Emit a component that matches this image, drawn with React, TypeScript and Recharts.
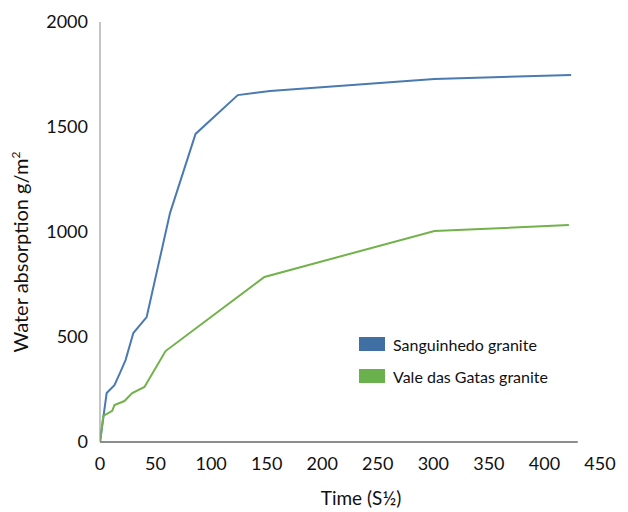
import { LineChart, Line, XAxis, YAxis, ReferenceLine } from "recharts";

// Sanguinhedo granite
const sanguinhedoTime = [0, 6, 13, 18, 23, 30, 42, 63, 86, 124, 153, 301, 424];
const sanguinhedoAbs = [0, 233, 271, 329, 390, 519, 595, 1090, 1467, 1652, 1671, 1729, 1748];

// Vale das Gatas granite
const valeTime = [0, 3, 11, 13, 22, 29, 40, 59, 148, 301, 422];
const valeAbs = [0, 124, 148, 176, 195, 233, 262, 433, 786, 1005, 1033];

const xTicks = [0, 50, 100, 150, 200, 250, 300, 350, 400, 450];
const yTicks = [0, 500, 1000, 1500, 2000];

const sanguinhedo = sanguinhedoTime.map((t, i) => ({ t, v: sanguinhedoAbs[i] }));
const vale = valeTime.map((t, i) => ({ t, v: valeAbs[i] }));

const FONT = "Lato, 'Open Sans', sans-serif";
const BLUE = "#4a7ab0";
const GREEN = "#72b24a";

function LegendBox() {
  const items = [
    { name: "Sanguinhedo granite", color: "#3f6fa3" },
    { name: "Vale das Gatas granite", color: "#6ab04c" },
  ];
  return (
    <div style={{ position: "absolute", left: 351, top: 320, fontFamily: FONT, fontSize: 16, color: "#111" }}>
      {items.map((it) => (
        <div key={it.name} style={{ display: "flex", alignItems: "center", height: 32 }}>
          <span style={{ width: 26, height: 14, background: it.color, marginRight: 8, display: "inline-block" }} />
          {it.name}
        </div>
      ))}
    </div>
  );
}

export default function App() {
  return (
    <div style={{ position: "relative", width: 620, height: 504, fontFamily: FONT }}>
      <LineChart width={620} height={504} margin={{ top: 14, right: 28, bottom: 40, left: 32 }}>
        <XAxis
          dataKey="t"
          type="number"
          domain={[0, 450]}
          ticks={xTicks}
          height={30}
          axisLine={false}
          tickLine={false}
          tickSize={0}
          tickMargin={15}
          allowDataOverflow
          tick={{ fill: "#111", fontSize: 18, fontFamily: FONT }}
        />
        <YAxis
          type="number"
          domain={[0, 2000]}
          ticks={yTicks}
          width={60}
          axisLine={{ stroke: "#8a8a8a", strokeWidth: 1 }}
          tickLine={false}
          tickSize={0}
          tickMargin={12}
          tick={{ fill: "#111", fontSize: 18, fontFamily: FONT }}
        />
        <ReferenceLine
          segment={[{ x: 0, y: 0 }, { x: 430, y: 0 }]}
          stroke="#8c8c8c"
          strokeWidth={2}
          ifOverflow="visible"
        />
        <Line
          data={sanguinhedo}
          dataKey="v"
          name="Sanguinhedo granite"
          stroke={BLUE}
          strokeWidth={2}
          dot={false}
          type="linear"
          isAnimationActive={false}
        />
        <Line
          data={vale}
          dataKey="v"
          name="Vale das Gatas granite"
          stroke={GREEN}
          strokeWidth={2}
          dot={false}
          type="linear"
          isAnimationActive={false}
        />
      </LineChart>
      <div
        style={{
          position: "absolute",
          left: 12,
          top: 244,
          transform: "translate(-50%, -50%) rotate(-90deg)",
          whiteSpace: "nowrap",
          fontSize: 20,
          color: "#111",
        }}
      >
        Water absorption g/m<sup style={{ fontSize: 12 }}>2</sup>
      </div>
      <div
        style={{
          position: "absolute",
          left: 353,
          top: 489,
          transform: "translate(-50%, -50%)",
          whiteSpace: "nowrap",
          fontSize: 19,
          color: "#111",
        }}
      >
        Time (S½)
      </div>
      <LegendBox />
    </div>
  );
}
